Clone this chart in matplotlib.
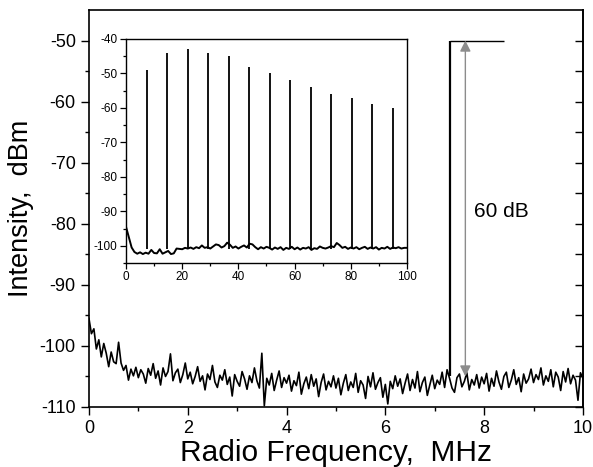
import numpy as np
import matplotlib.pyplot as plt

plt.rcParams['font.family'] = ['Liberation Sans', 'DejaVu Sans']
plt.rcParams['axes.unicode_minus'] = False

#%% data

# main RF spectrum noise floor, 0..10 MHz every 0.05 MHz
freq = np.linspace(0, 10, 201)
noise = [
    -95.5, -98.0, -97.2, -100.5, -99.0, -101.8, -99.6, -101.2, -103.4, -101.0,
    -102.6, -102.9, -99.4, -102.8, -104.0, -103.2, -105.6, -103.8, -104.9, -103.5,
    -105.2, -103.9, -104.6, -106.1, -103.7, -104.8, -102.9, -105.3, -104.1, -106.4,
    -103.6, -105.0, -104.2, -101.3, -105.7, -104.4, -103.8, -106.0, -104.7, -102.8,
    -105.4, -104.3, -106.2, -105.0, -103.4, -105.8, -104.9, -107.2, -104.6, -105.5,
    -103.2, -105.9, -106.8, -104.8, -105.6, -103.9, -106.3, -105.1, -108.2, -104.7,
    -105.8, -106.6, -104.2, -105.4, -107.1, -104.9, -106.0, -103.6, -105.7, -106.9,
    -101.2, -109.8, -105.3, -106.4, -104.5, -107.3, -105.6, -104.1, -106.8, -105.2,
    -106.1, -104.8, -107.4, -105.7, -106.5, -104.3, -107.9, -106.2, -105.1, -107.0,
    -104.7, -106.6, -105.4, -108.3, -106.0, -104.6, -107.2, -105.8, -106.7, -104.9,
    -106.9, -105.3, -108.0, -106.1, -104.7, -107.3, -105.9, -106.8, -104.5, -107.6,
    -105.7, -106.4, -108.6, -105.0, -106.7, -104.4, -107.1, -106.0, -105.2, -108.4,
    -106.3, -109.5, -105.8, -107.0, -104.9, -106.6, -105.4, -107.8, -106.1, -104.6,
    -107.3, -105.5, -106.9, -104.2, -107.5, -106.0, -105.1, -108.1, -106.4, -104.8,
    -107.0, -105.6, -106.3, -104.3, -106.8, -103.9, -105.3, -106.9, -107.6, -105.2,
    -104.6, -106.7, -105.8, -104.4, -107.2, -105.5, -106.4, -104.7, -106.9, -105.1,
    -106.2, -104.5, -107.4, -105.3, -106.6, -104.1, -105.9, -107.1, -105.0, -104.3,
    -106.8, -105.6, -103.9, -106.3, -105.2, -107.5, -104.6, -106.1, -105.4, -103.8,
    -106.0, -104.7, -105.5, -103.6, -106.4, -104.9, -105.8, -103.9, -106.7, -104.3,
    -105.1, -107.3, -104.2, -105.9, -103.7, -106.2, -104.8, -105.6, -108.9, -104.4,
    -105.3]

# fundamental peak
peak_f = 7.3
peak_top = -50
peak_base = -105
ref_end = 8.4
arrow_f = 7.62
arrow_low = -105

# inset: wide span 0..100 MHz
wide_f = np.arange(0, 101)
wide_noise = [
    -94.5, -97.5, -100.5, -101.8, -102.3, -101.9, -102.4, -102.0, -102.3, -101.2,
    -102.1, -102.2, -101.0, -102.3, -101.9, -101.5, -102.4, -102.2, -100.8, -100.9,
    -101.0, -100.6, -100.8, -100.5, -100.9, -100.4, -100.7, -99.9, -100.6, -100.4,
    -100.8, -100.2, -99.6, -99.8, -100.5, -100.1, -99.1, -99.7, -100.6, -100.2,
    -100.8, -100.3, -99.9, -100.5, -99.4, -99.6, -100.4, -101.0, -100.4, -100.8,
    -100.3, -100.6, -101.1, -100.5, -100.9, -100.4, -101.2, -100.6, -100.9, -100.3,
    -101.0, -100.5, -101.1, -100.6, -100.8, -100.4, -101.2, -100.7, -100.9, -100.2,
    -100.6, -100.8, -100.5, -100.1, -100.4, -99.2, -99.8, -100.6, -100.3, -100.9,
    -100.5, -100.8, -100.4, -101.0, -100.6, -100.3, -100.9, -100.5, -100.8, -100.4,
    -101.1, -100.6, -100.8, -100.3, -100.9, -100.5, -100.7, -100.4, -100.8, -100.6,
    -100.6]
harm_f = [7.3, 14.6, 21.9, 29.2, 36.5, 43.8, 51.1, 58.4, 65.7, 73.0, 80.3, 87.6, 94.9]
harm_db = [-49, -44, -43, -44, -45, -48, -50, -52, -54, -56, -57, -59, -60]

#%% plot

fig = plt.figure(figsize=(5.93, 4.67), dpi=100)
ax = fig.add_axes([0.150, 0.1285, 0.833, 0.850])

ax.plot(freq, noise, 'k', lw=1.2)
ax.vlines(peak_f, peak_base, peak_top, color='k', lw=1.6)
ax.hlines(peak_top, peak_f, ref_end, color='k', lw=1.0)
ax.annotate('', xy=(arrow_f, peak_top), xytext=(arrow_f, arrow_low),
            arrowprops=dict(arrowstyle='<|-|>', color='#8c8c8c', lw=1.0,
                            mutation_scale=16, shrinkA=0, shrinkB=0))
ax.text(7.8, -78, '60 dB', fontsize=15, va='center')

ax.set_xlim(0, 10)
ax.set_ylim(-110, -45)
ax.set_xticks([0, 2, 4, 6, 8, 10])
ax.set_xticks([1, 3, 5, 7, 9], minor=True)
ax.set_yticks(np.arange(-110, -45, 10))
ax.set_yticks(np.arange(-105, -45, 10), minor=True)
ax.tick_params(which='both', direction='out', labelsize=13, width=1.0)
ax.tick_params(which='major', length=6)
ax.tick_params(which='minor', length=3)
for s in ax.spines.values():
    s.set_linewidth(1.2)
ax.set_xlabel('Radio Frequency,  MHz', fontsize=21.5, labelpad=1)
ax.set_ylabel('Intensity,  dBm', fontsize=19.5, labelpad=4)

# right axis: inward ticks, no labels
rax = ax.secondary_yaxis('right')
rax.set_yticks(np.arange(-110, -45, 5))
rax.tick_params(direction='in', length=6, width=1.0, labelright=False)
rax.spines['right'].set_linewidth(1.2)

# inset
ins = fig.add_axes([0.2125, 0.4368, 0.4738, 0.4797])
ins.plot(wide_f, wide_noise, 'k', lw=1.4)
ins.vlines(harm_f, -100.8, harm_db, color='k', lw=1.3)
ins.set_xlim(0, 100)
ins.set_ylim(-105, -40)
ins.set_xticks([0, 20, 40, 60, 80, 100])
ins.set_xticks([10, 30, 50, 70, 90], minor=True)
ins.set_yticks(np.arange(-100, -35, 10))
ins.set_yticks(np.arange(-105, -40, 10), minor=True)
ins.tick_params(which='both', direction='out', labelsize=8.5, width=0.9, pad=2)
ins.tick_params(which='major', length=4)
ins.tick_params(which='minor', length=2)
for s in ins.spines.values():
    s.set_linewidth(1.0)

plt.savefig('out.png', dpi=100)
